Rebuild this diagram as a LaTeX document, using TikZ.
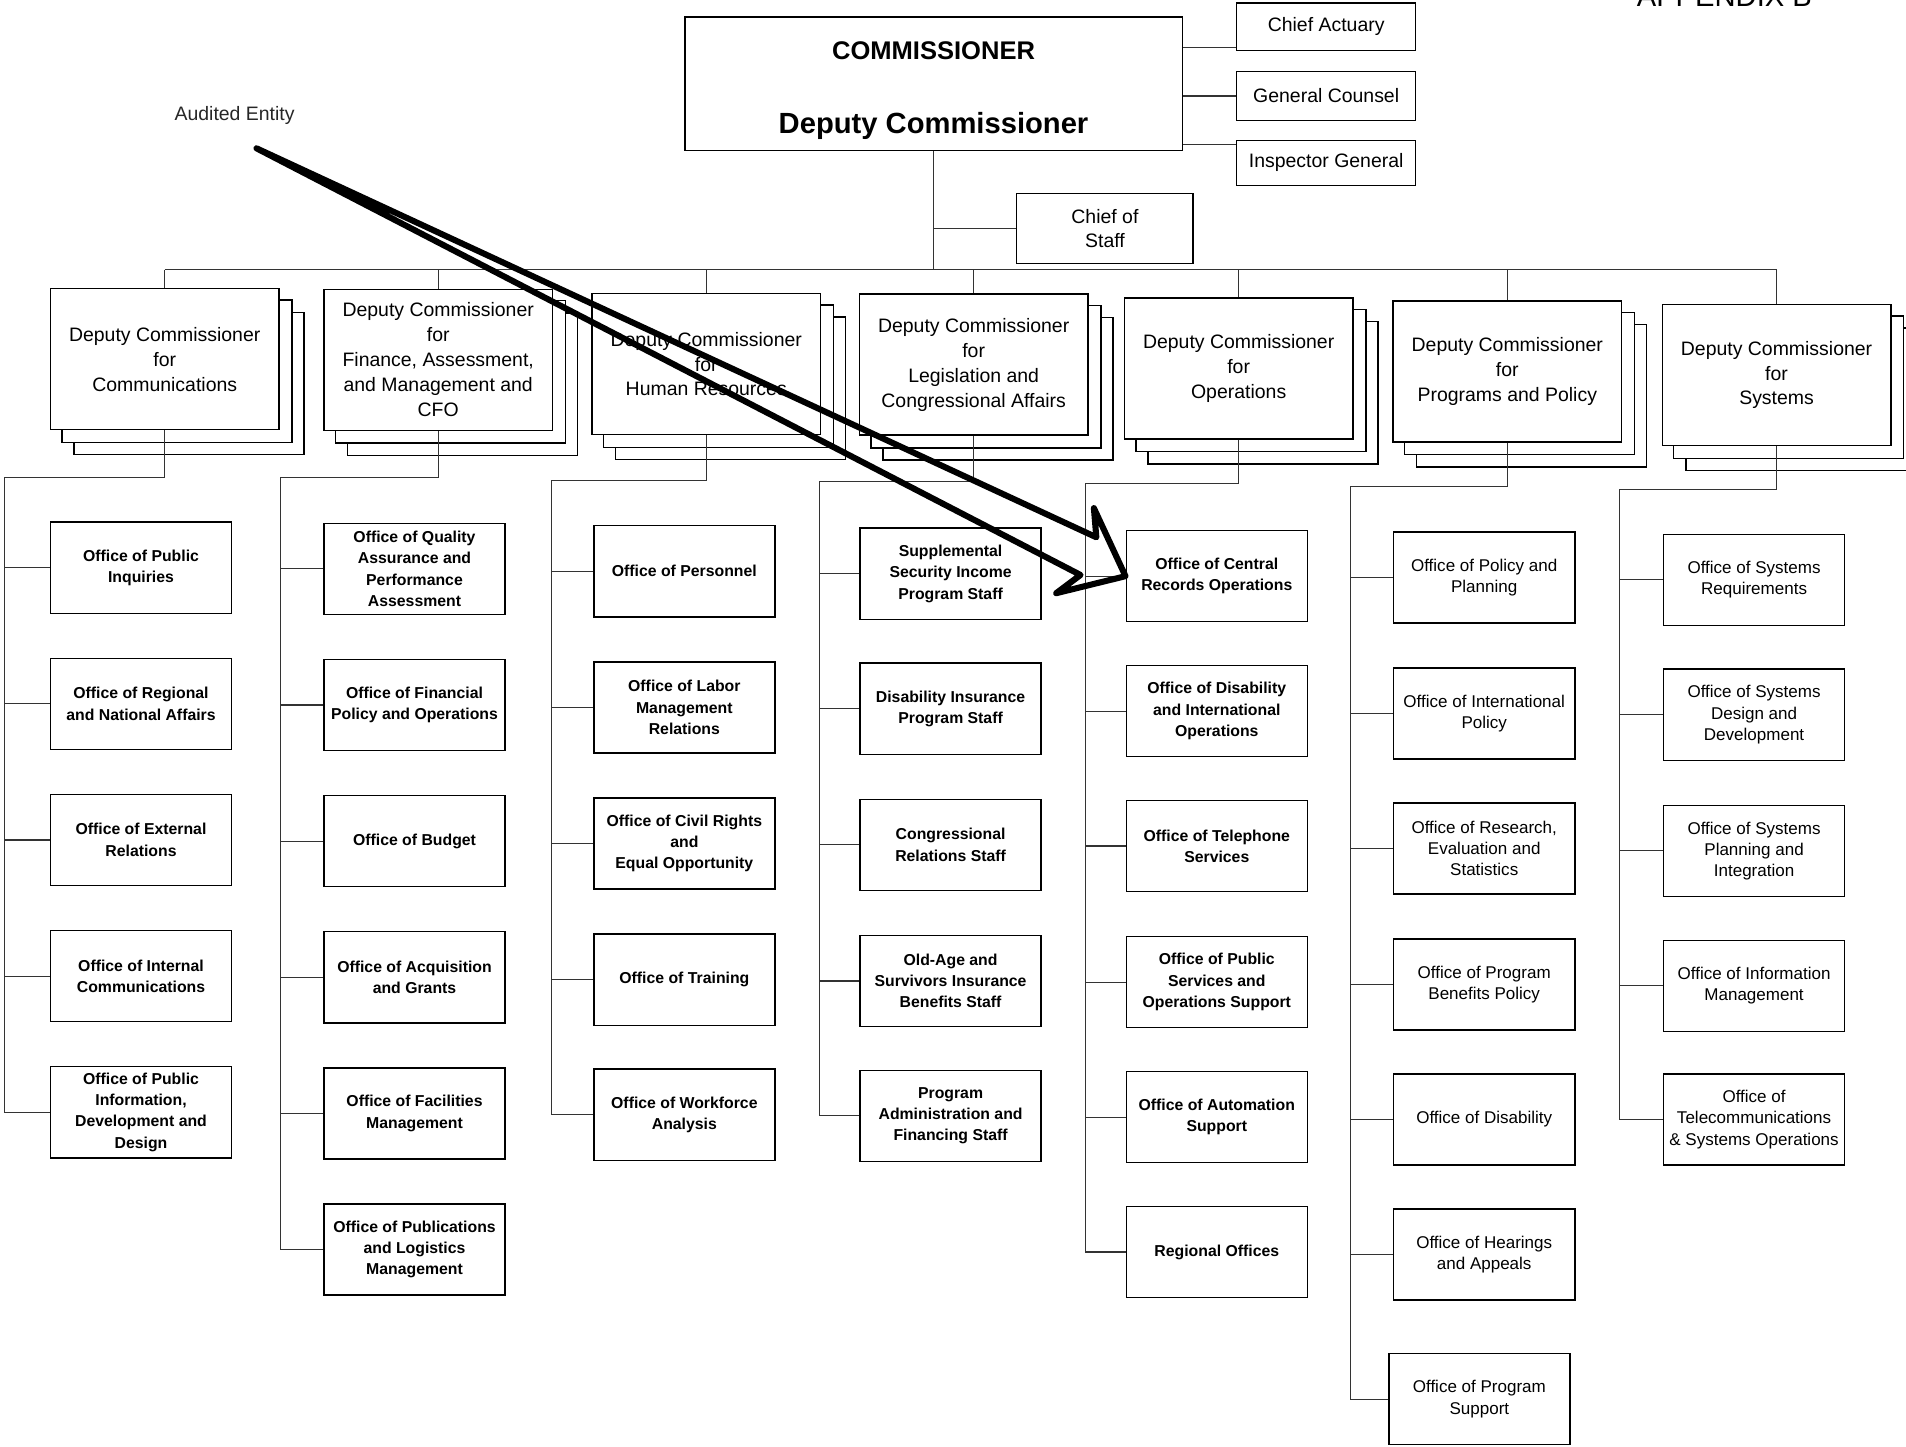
\documentclass[tikz,border=0pt]{standalone}
\usepackage{fontspec}
\setmainfont{Liberation Sans}
\usetikzlibrary{backgrounds}

\begin{document}
\begin{tikzpicture}[x=1pt,y=-1pt,
	box/.style={draw,line width=1.2pt,fill=white},
	office/.style={box,minimum width=149,minimum height=75,inner sep=2pt,align=center,font=\fontsize{13}{17.5}\selectfont\bfseries},
	plainoffice/.style={office,font=\fontsize{14}{17.5}\selectfont},
	deputy/.style={box,minimum width=188,minimum height=116,inner sep=2pt,align=center,font=\fontsize{16}{20.5}\selectfont},
	staffbox/.style={box,line width=1pt,minimum width=147,inner sep=2pt,align=center,font=\fontsize{16}{20}\selectfont},
	link/.style={line width=0.9pt,draw=black!80},
	bigarrow/.style={line width=5pt,line join=round}]
			\useasboundingbox (0,0) rectangle (1568,1190);
			\clip (0,0) rectangle (1568,1190);
			
			\node[anchor=base west,font=\fontsize{24}{28}\selectfont] (Appendix) at (1343,5) {APPENDIX B};
			\node[font=\fontsize{16}{20}\selectfont,text=black!85] (AuditedEntity) at (193,95) {Audited Entity};
			
			\node[box,line width=1pt,minimum width=409,minimum height=110] (Commissioner) at (768,69) {};
			\node[font=\fontsize{21}{24}\selectfont\bfseries] (CommTitle) at (768,42) {COMMISSIONER};
			\node[font=\fontsize{24}{28}\selectfont\bfseries] (DeputyTitle) at (768,104) {Deputy Commissioner};
			\node[staffbox,minimum height=39] (ChiefActuary) at (1091,22) {Chief Actuary};
			\node[staffbox,minimum height=40] (GeneralCounsel) at (1091,79) {General Counsel};
			\node[staffbox,minimum height=37] (InspectorGeneral) at (1091,134) {Inspector General};
			\node[staffbox,minimum width=145,minimum height=57] (ChiefOfStaff) at (909,188) {Chief of\\Staff};
			
			\node[deputy] (Communications) at (135.5,295.5) {Deputy Commissioner\\for\\Communications};
			\node[deputy] (Finance) at (360.5,296) {Deputy Commissioner\\for\\Finance, Assessment,\\and Management and\\CFO};
			\node[deputy] (HumanResources) at (581,299.5) {Deputy Commissioner\\for\\Human Resources};
			\node[deputy] (Legislation) at (801,300) {Deputy Commissioner\\for\\Legislation and\\Congressional Affairs};
			\node[deputy] (Operations) at (1019,303) {Deputy Commissioner\\for\\Operations};
			\node[deputy] (Programs) at (1240,305.5) {Deputy Commissioner\\for\\Programs and Policy};
			\node[deputy] (Systems) at (1461.5,308.5) {Deputy Commissioner\\for\\Systems};
			
			% stacked copies behind the deputy boxes
			\begin{scope}[on background layer]
				\foreach \d in {Communications,Finance,HumanResources,Legislation,Operations,Programs,Systems}
				\foreach \s in {20,10}
				\draw[box] ([shift={(\s,\s)}]\d.north west) rectangle ([shift={(\s,\s)}]\d.south east);
			\end{scope}
			
			\node[office] (PublicInquiries) at (116,467) {Office of Public\\Inquiries};
			\node[office] (RegionalAffairs) at (116,579) {Office of Regional\\and National Affairs};
			\node[office] (ExternalRelations) at (116,691) {Office of External\\Relations};
			\node[office] (InternalComm) at (116,803) {Office of Internal\\Communications};
			\node[office] (PublicInformation) at (116,915) {Office of Public\\Information,\\Development and\\Design};
			
			\node[office] (QualityAssurance) at (341,468) {Office of Quality\\Assurance and\\Performance\\Assessment};
			\node[office] (FinancialPolicy) at (341,580) {Office of Financial\\Policy and Operations};
			\node[office] (Budget) at (341,692) {Office of Budget};
			\node[office] (Acquisition) at (341,804) {Office of Acquisition\\and Grants};
			\node[office] (Facilities) at (341,916) {Office of Facilities\\Management};
			\node[office] (Publications) at (341,1028) {Office of Publications\\and Logistics\\Management};
			
			\node[office] (Personnel) at (563,470) {Office of Personnel};
			\node[office] (LaborRelations) at (563,582) {Office of Labor\\Management\\Relations};
			\node[office] (CivilRights) at (563,694) {Office of Civil Rights\\and\\Equal Opportunity};
			\node[office] (Training) at (563,806) {Office of Training};
			\node[office] (Workforce) at (563,917) {Office of Workforce\\Analysis};
			
			\node[office] (SSIStaff) at (782,472) {Supplemental\\Security Income\\Program Staff};
			\node[office] (DIStaff) at (782,583) {Disability Insurance\\Program Staff};
			\node[office] (CongressStaff) at (782,695) {Congressional\\Relations Staff};
			\node[office] (OASIStaff) at (782,807) {Old-Age and\\Survivors Insurance\\Benefits Staff};
			\node[office] (FinancingStaff) at (782,918) {Program\\Administration and\\Financing Staff};
			
			\node[office] (CentralRecords) at (1001,474) {Office of Central\\Records Operations};
			\node[office] (DisabilityIntl) at (1001,585) {Office of Disability\\and International\\Operations};
			\node[office] (Telephone) at (1001,696) {Office of Telephone\\Services};
			\node[office] (PublicServices) at (1001,808) {Office of Public\\Services and\\Operations Support};
			\node[office] (Automation) at (1001,919) {Office of Automation\\Support};
			\node[office] (RegionalOffices) at (1001,1030) {Regional Offices};
			
			\node[plainoffice] (PolicyPlanning) at (1221,475) {Office of Policy and\\Planning};
			\node[plainoffice] (IntlPolicy) at (1221,587) {Office of International\\Policy};
			\node[plainoffice] (Research) at (1221,698) {Office of Research,\\Evaluation and\\Statistics};
			\node[plainoffice] (BenefitsPolicy) at (1221,810) {Office of Program\\Benefits Policy};
			\node[plainoffice] (Disability) at (1221,921) {Office of Disability};
			\node[plainoffice] (Hearings) at (1221,1032) {Office of Hearings\\and Appeals};
			\node[plainoffice] (ProgramSupport) at (1217,1151) {Office of Program\\Support};
			
			\node[plainoffice] (SysRequirements) at (1443,477) {Office of Systems\\Requirements};
			\node[plainoffice] (SysDesign) at (1443,588) {Office of Systems\\Design and\\Development};
			\node[plainoffice] (SysPlanning) at (1443,700) {Office of Systems\\Planning and\\Integration};
			\node[plainoffice] (InfoManagement) at (1443,811) {Office of Information\\Management};
			\node[plainoffice] (Telecom) at (1443,921) {Office of\\Telecommunications\\\& Systems Operations};
			
			% top of the chart
			\coordinate (Bus) at (768,222);
			\draw[link] (Commissioner.south) -- (Bus);
			\draw[link] (Commissioner.south |- ChiefOfStaff.west) -- (ChiefOfStaff.west);
			\draw[link] (Commissioner.east |- ChiefActuary.south west) ++(0,-3) -- ([yshift=3pt]ChiefActuary.south west);
			\draw[link] (Commissioner.east |- GeneralCounsel.west) -- (GeneralCounsel.west);
			\draw[link] (Commissioner.east |- InspectorGeneral.north west) ++(0,4) -- ([yshift=-4pt]InspectorGeneral.north west);
			\draw[link] (Communications.north |- Bus) -- (Systems.north |- Bus);
			\foreach \d in {Communications,Finance,HumanResources,Legislation,Operations,Programs,Systems}
			\draw[link] (\d.north |- Bus) -- (\d.north);
			
			% columns of offices
			\coordinate (SpineComm) at (4,393);
			\coordinate (SpineFin) at (231,393);
			\coordinate (SpineHR) at (454,395);
			\coordinate (SpineLeg) at (674,396);
			\coordinate (SpineOps) at (893,398);
			\coordinate (SpinePP) at (1111,400);
			\coordinate (SpineSys) at (1332,403);
			
			\draw[link] (Communications.south) |- (SpineComm) |- (PublicInformation.west);
			\foreach \o in {PublicInquiries,RegionalAffairs,ExternalRelations,InternalComm}
			\draw[link] (SpineComm |- \o.west) -- (\o.west);
			\draw[link] (Finance.south) |- (SpineFin) |- (Publications.west);
			\foreach \o in {QualityAssurance,FinancialPolicy,Budget,Acquisition,Facilities}
			\draw[link] (SpineFin |- \o.west) -- (\o.west);
			\draw[link] (HumanResources.south) |- (SpineHR) |- (Workforce.west);
			\foreach \o in {Personnel,LaborRelations,CivilRights,Training}
			\draw[link] (SpineHR |- \o.west) -- (\o.west);
			\draw[link] (Legislation.south) |- (SpineLeg) |- (FinancingStaff.west);
			\foreach \o in {SSIStaff,DIStaff,CongressStaff,OASIStaff}
			\draw[link] (SpineLeg |- \o.west) -- (\o.west);
			\draw[link] (Operations.south) |- (SpineOps) |- (RegionalOffices.west);
			\foreach \o in {CentralRecords,DisabilityIntl,Telephone,PublicServices,Automation}
			\draw[link] (SpineOps |- \o.west) -- (\o.west);
			\draw[link] (Programs.south) |- (SpinePP) |- (ProgramSupport.west);
			\foreach \o in {PolicyPlanning,IntlPolicy,Research,BenefitsPolicy,Disability,Hearings}
			\draw[link] (SpinePP |- \o.west) -- (\o.west);
			\draw[link] (Systems.south) |- (SpineSys) |- (Telecom.west);
			\foreach \o in {SysRequirements,SysDesign,SysPlanning,InfoManagement}
			\draw[link] (SpineSys |- \o.west) -- (\o.west);
			
			% the audited entity arrow
			\coordinate (ArrowTail) at (211,122);
			\draw[bigarrow] (ArrowTail) -- ([shift={(-24,-32)}]CentralRecords.west) -- ([shift={(-26,-56)}]CentralRecords.west)
				-- (CentralRecords.west) -- ([shift={(-57,14)}]CentralRecords.west) -- ([shift={(-37,-1)}]CentralRecords.west) -- cycle;
\end{tikzpicture}
\end{document}
